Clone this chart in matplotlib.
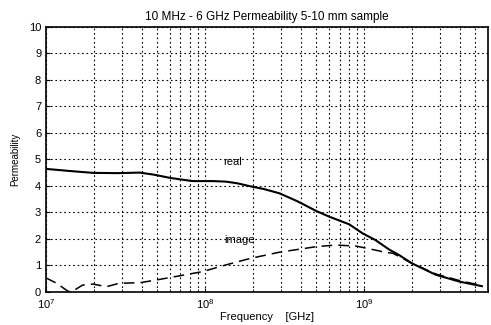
import matplotlib
matplotlib.use("Agg")
import matplotlib.pyplot as plt
import numpy as np
from matplotlib.ticker import LogLocator, NullFormatter

plt.rcParams['font.family'] = ['Liberation Sans', 'DejaVu Sans']

# log10 of frequency (Hz) and permeability values
real_logf = [7.0, 7.15, 7.295, 7.45, 7.59, 7.68, 7.78, 7.92, 8.05, 8.13, 8.20, 8.28,
             8.37, 8.467, 8.58, 8.70, 8.78, 8.906, 8.99, 9.07, 9.157, 9.22, 9.30,
             9.45, 9.60, 9.74]
real_vals = [4.64, 4.56, 4.49, 4.48, 4.50, 4.42, 4.30, 4.18, 4.18, 4.16, 4.10, 3.99,
             3.88, 3.72, 3.42, 3.05, 2.84, 2.55, 2.21, 1.96, 1.60, 1.39, 1.08,
             0.65, 0.39, 0.22]

imag_logf = [7.0, 7.067, 7.14, 7.17, 7.23, 7.295, 7.38, 7.46, 7.59, 7.69, 7.84,
             7.985, 8.13, 8.28, 8.467, 8.60, 8.70, 8.82, 8.95, 9.07, 9.13, 9.18,
             9.30, 9.45, 9.60, 9.74]
imag_vals = [0.53, 0.33, 0.02, 0.04, 0.26, 0.30, 0.20, 0.33, 0.35, 0.45, 0.61,
             0.77, 1.02, 1.26, 1.50, 1.62, 1.71, 1.77, 1.73, 1.58, 1.50, 1.46,
             1.08, 0.68, 0.43, 0.24]

title = "10 MHz - 6 GHz Permeability 5-10 mm sample"
xlabel = "Frequency    [GHz]"
ylabel = "Permeability"

fig = plt.figure(figsize=(4.91, 3.25), dpi=100)
ax = fig.add_axes([0.0937, 0.1015, 0.9002, 0.8165])

f_real = 10.0 ** np.array(real_logf)
f_imag = 10.0 ** np.array(imag_logf)
ax.plot(f_real, real_vals, color='black', lw=1.5)
ax.plot(f_imag, imag_vals, color='black', lw=1.1, dashes=(7, 4))

ax.set_xscale('log')
ax.set_xlim(1e7, 6e9)
ax.set_ylim(0, 10)
ax.set_yticks(range(0, 11))
ax.xaxis.set_major_locator(LogLocator(base=10, numticks=10))
ax.xaxis.set_minor_locator(LogLocator(base=10, subs=np.arange(2, 10), numticks=20))
ax.xaxis.set_minor_formatter(NullFormatter())

ax.grid(True, which='major', color='black', linestyle=(0, (1.5, 2.5)), lw=0.8)
ax.grid(True, which='minor', axis='x', color='black', linestyle=(0, (1.5, 2.5)), lw=0.8)

ax.tick_params(which='both', direction='in', labelsize=8, length=3)
ax.tick_params(which='minor', length=2)
for s in ax.spines.values():
    s.set_linewidth(1.2)

ax.text(1.5e8, 4.9, 'real', fontsize=8, ha='center', va='center')
ax.text(1.65e8, 1.96, 'image', fontsize=8, ha='center', va='center')

ax.set_title(title, fontsize=8.5, pad=5)
ax.set_xlabel(xlabel, fontsize=8, labelpad=1)
ax.set_ylabel(ylabel, fontsize=7, labelpad=6)

fig.savefig('out.png', dpi=100)
